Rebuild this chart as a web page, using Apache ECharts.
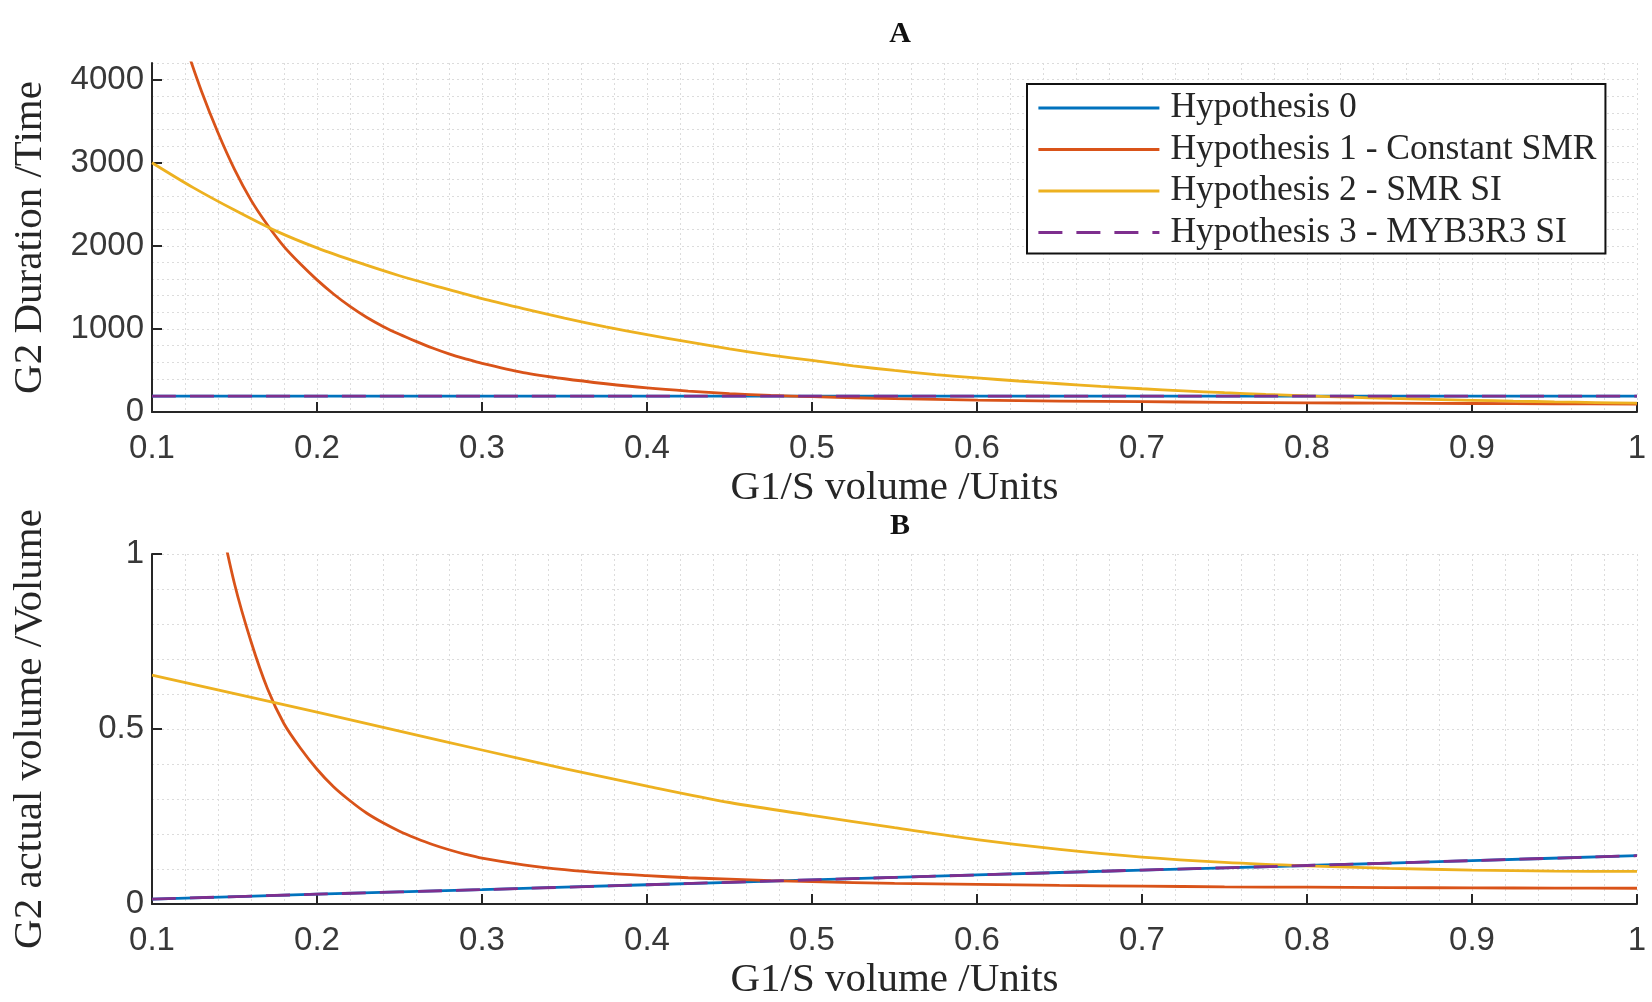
<!DOCTYPE html>
<html>
<head>
<meta charset="utf-8">
<script src="https://cdn.jsdelivr.net/npm/echarts@6/dist/echarts.min.js"></script>
<style>
html,body{margin:0;padding:0;background:#fff;}
#chart{width:1652px;height:1002px;}
</style>
</head>
<body>
<div id="chart"></div>
<script>
// ---------- data ----------
const seriesNames = ['Hypothesis 0', 'Hypothesis 1 - Constant SMR', 'Hypothesis 2 - SMR SI', 'Hypothesis 3 - MYB3R3 SI'];

// Panel A : G2 duration
const aH0X = [0.1, 0.2, 0.3, 0.4, 0.5, 0.6, 0.7, 0.8, 0.9, 1.0];
const aH0Y = [190, 190, 190, 190, 190, 190, 190, 190, 190, 190];
const aH1X = [0.12, 0.13, 0.14, 0.15, 0.16, 0.17, 0.18, 0.19, 0.20, 0.21, 0.22, 0.23, 0.24, 0.25, 0.26, 0.27, 0.28, 0.29, 0.30,
              0.325, 0.35, 0.375, 0.40, 0.425, 0.45, 0.475, 0.50, 0.55, 0.60, 0.65, 0.70, 0.75, 0.80, 0.85, 0.90, 0.95, 1.00];
const aH1Y = [4430, 3860, 3360, 2920, 2550, 2250, 1990, 1780, 1590, 1420, 1270, 1140, 1030, 935, 850, 770, 700, 640, 585,
              475, 400, 340, 290, 252, 222, 200, 184, 160, 143, 132, 124, 117, 111, 106, 102, 98, 95];
const aH2X = [0.1, 0.125, 0.15, 0.175, 0.2, 0.225, 0.25, 0.275, 0.3, 0.325, 0.35, 0.375, 0.4, 0.425, 0.45, 0.475, 0.5,
              0.525, 0.55, 0.575, 0.6, 0.625, 0.65, 0.675, 0.7, 0.725, 0.75, 0.775, 0.8, 0.825, 0.85, 0.875, 0.9, 0.925, 0.95, 0.975, 1.0];
const aH2Y = [3000, 2700, 2430, 2180, 1975, 1800, 1640, 1500, 1365, 1245, 1130, 1025, 930, 845, 760, 685, 620,
              555, 500, 450, 410, 373, 340, 308, 280, 255, 232, 212, 194, 178, 164, 152, 141, 131, 122, 114, 107];
const aH3X = [0.1, 0.2, 0.3, 0.4, 0.5, 0.6, 0.7, 0.8, 0.9, 1.0];
const aH3Y = [190, 190, 190, 190, 190, 190, 190, 190, 190, 190];

// Panel B : G2 actual volume
const bH0X = [0.1, 0.2, 0.3, 0.4, 0.5, 0.6, 0.7, 0.8, 0.9, 1.0];
const bH0Y = [0.014, 0.028, 0.041, 0.055, 0.069, 0.083, 0.097, 0.110, 0.124, 0.138];
const bH1X = [0.14, 0.15, 0.16, 0.17, 0.18, 0.19, 0.20, 0.21, 0.22, 0.23, 0.24, 0.25, 0.26, 0.27, 0.28, 0.29, 0.30,
              0.325, 0.35, 0.375, 0.4, 0.425, 0.45, 0.475, 0.5, 0.55, 0.6, 0.65, 0.7, 0.75, 0.8, 0.85, 0.9, 0.95, 1.0];
const bH1Y = [1.13, 0.915, 0.75, 0.615, 0.515, 0.445, 0.385, 0.335, 0.295, 0.26, 0.232, 0.208, 0.188, 0.17, 0.155, 0.142, 0.131,
              0.112, 0.098, 0.088, 0.081, 0.075, 0.071, 0.067, 0.064, 0.059, 0.056, 0.053, 0.051, 0.049, 0.048, 0.047, 0.046, 0.0455, 0.045];
const bH2X = [0.1, 0.15, 0.2, 0.25, 0.3, 0.35, 0.4, 0.45, 0.5, 0.55, 0.6, 0.65, 0.7, 0.75, 0.8, 0.85, 0.9, 0.95, 1.0];
const bH2Y = [0.654, 0.601, 0.548, 0.494, 0.44, 0.387, 0.337, 0.29, 0.253, 0.218, 0.184, 0.156, 0.134, 0.119, 0.109, 0.102, 0.097, 0.094, 0.093];
const bH3X = [0.1, 0.2, 0.3, 0.4, 0.5, 0.6, 0.7, 0.8, 0.9, 1.0];
const bH3Y = [0.014, 0.028, 0.041, 0.055, 0.069, 0.083, 0.097, 0.110, 0.124, 0.138];

// ---------- styling ----------
const colors = ['#0072BD', '#D95319', '#EDB120', '#7E2F8E'];
const axisColor = '#262626';
const serif = '"Liberation Serif", "DejaVu Serif", serif';
const sans = '"Liberation Sans", Arial, sans-serif';
const zip = (xs, ys) => xs.map((x, i) => [x, ys[i]]);

function lineSeries(idx, xs, ys, axisIndex, dashed) {
  return {
    name: seriesNames[idx],
    type: 'line',
    xAxisIndex: axisIndex,
    yAxisIndex: axisIndex,
    data: zip(xs, ys),
    symbol: 'none',
    smooth: 0.3,
    clip: true,
    lineStyle: { color: colors[idx], width: 2.8, type: dashed ? [24, 14] : 'solid' },
    itemStyle: { color: colors[idx] },
    z: 3 + idx,
    animation: false
  };
}

const gridA = { left: 152, right: 15, top: 63, height: 349 };
const gridB = { left: 152, right: 15, top: 554, height: 350 };

function visX(gi) {
  return {
    type: 'value', gridIndex: gi, min: 0.1, max: 1, interval: 0.1,
    name: 'G1/S volume /Units', nameLocation: 'middle', nameGap: 56,
    nameTextStyle: { fontFamily: serif, fontSize: 41, color: axisColor },
    axisLine: { show: true, onZero: false, lineStyle: { color: axisColor, width: 2 } },
    axisTick: { show: true, inside: true, length: 10, lineStyle: { color: axisColor, width: 2 } },
    axisLabel: { fontFamily: sans, fontSize: 33, color: '#383838', margin: 20,
      formatter: v => String(+v.toFixed(1)) },
    splitLine: { show: true, lineStyle: { color: '#c4c4c4', type: [2, 3], width: 1 } }
  };
}
function hidX(gi) {
  return {
    type: 'value', gridIndex: gi, min: 0.1, max: 1, interval: 0.02, position: 'bottom',
    axisLine: { show: false }, axisTick: { show: false }, axisLabel: { show: false },
    splitLine: { show: true, lineStyle: { color: '#dcdcdc', type: [2, 3], width: 1 } }
  };
}
function visY(gi, max, interval, name, fmt) {
  return {
    type: 'value', gridIndex: gi, min: 0, max: max, interval: interval,
    name: name, nameLocation: 'middle', nameGap: 101,
    nameTextStyle: { fontFamily: serif, fontSize: 41, color: axisColor },
    axisLine: { show: true, lineStyle: { color: axisColor, width: 2 } },
    axisTick: { show: true, inside: true, length: 10, lineStyle: { color: axisColor, width: 2 } },
    axisLabel: { fontFamily: sans, fontSize: 33, color: '#383838', margin: 8,
      showMaxLabel: max === interval * Math.round(max / interval), formatter: fmt },
    splitLine: { show: true, lineStyle: { color: '#c4c4c4', type: [2, 3], width: 1 } }
  };
}
function hidY(gi, max, interval) {
  return {
    type: 'value', gridIndex: gi, min: 0, max: max, interval: interval,
    axisLine: { show: false }, axisTick: { show: false }, axisLabel: { show: false },
    splitLine: { show: true, lineStyle: { color: '#dcdcdc', type: [2, 3], width: 1 } }
  };
}

const option = {
  backgroundColor: '#ffffff',
  animation: false,
  title: [
    { text: 'A', left: 895, top: 14, textAlign: 'center',
      textStyle: { fontFamily: serif, fontWeight: 'bold', fontSize: 30, color: '#111' } },
    { text: 'B', left: 895, top: 506, textAlign: 'center',
      textStyle: { fontFamily: serif, fontWeight: 'bold', fontSize: 30, color: '#111' } }
  ],
  legend: {
    data: seriesNames,
    orient: 'vertical',
    left: 1027, top: 84,
    padding: [4, 9, 1, 10],
    itemWidth: 121, itemHeight: 14, itemGap: 1.5,
    backgroundColor: '#ffffff',
    borderColor: '#111', borderWidth: 2,
    itemStyle: { opacity: 0 },
    lineStyle: { width: 2.8 },
    textStyle: { fontFamily: serif, fontSize: 35.5, color: axisColor, lineHeight: 40, padding: [0, 0, 0, 6] },
    z: 10
  },
  grid: [
    Object.assign({ containLabel: false }, gridA),
    Object.assign({ containLabel: false }, gridB)
  ],
  xAxis: [visX(0), visX(1), hidX(0), hidX(1)],
  yAxis: [
    visY(0, 4200, 1000, 'G2 Duration /Time', v => String(v)),
    visY(1, 1, 0.5, 'G2 actual volume /Volume', v => String(+v.toFixed(1))),
    hidY(0, 4200, 200),
    hidY(1, 1, 0.1)
  ],
  series: [
    lineSeries(0, aH0X, aH0Y, 0, false),
    lineSeries(1, aH1X, aH1Y, 0, false),
    lineSeries(2, aH2X, aH2Y, 0, false),
    lineSeries(3, aH3X, aH3Y, 0, true),
    lineSeries(0, bH0X, bH0Y, 1, false),
    lineSeries(1, bH1X, bH1Y, 1, false),
    lineSeries(2, bH2X, bH2Y, 1, false),
    lineSeries(3, bH3X, bH3Y, 1, true)
  ]
};

const chart = echarts.init(document.getElementById('chart'), null, { renderer: 'canvas' });
chart.setOption(option);
</script>
</body>
</html>
